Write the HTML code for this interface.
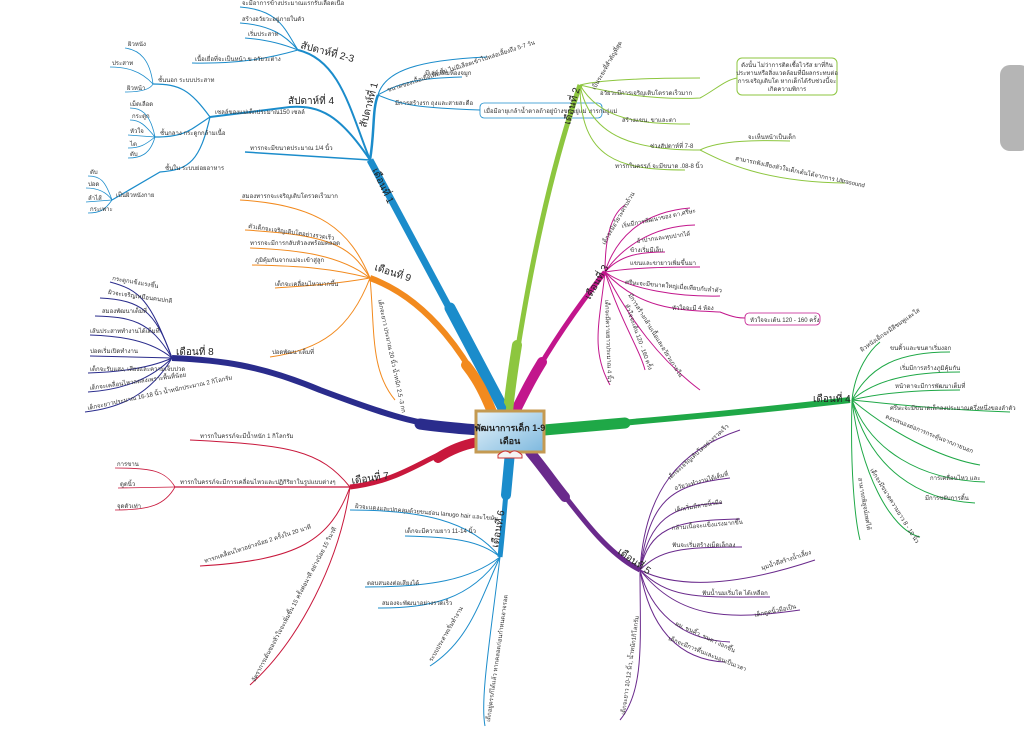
<!DOCTYPE html>
<html><head><meta charset="utf-8"><style>
html,body{margin:0;padding:0;background:#fff;}
svg{display:block;font-family:"Liberation Sans","DejaVu Sans",sans-serif;}
.t{font-size:6px;fill:#333;}
.m{font-size:10px;fill:#222;}
.l{fill:none;}
</style></head><body>
<svg width="1024" height="730" viewBox="0 0 1024 730" xmlns="http://www.w3.org/2000/svg">
<defs>
<linearGradient id="bg" x1="0" y1="0" x2="1" y2="1"><stop offset="0" stop-color="#e8f4fb"/><stop offset="1" stop-color="#7db8de"/></linearGradient>
</defs>
<rect x="1000" y="65" width="30" height="86" rx="10" fill="#b5b5b5"/>

<!-- thick stubs -->
<g fill="none" stroke-linecap="round">
<path d="M505 412 L450 308" stroke="#1b8ccb" stroke-width="11"/>
<path d="M492 412 C485 395 478 380 466 365" stroke="#f28a1e" stroke-width="10"/>
<path d="M478 430 C455 428 440 427 420 424" stroke="#2a2c8c" stroke-width="11"/>
<path d="M478 442 C462 445 450 450 438 458" stroke="#c8183c" stroke-width="10"/>
<path d="M510 452 L506 495" stroke="#1b8ccb" stroke-width="10"/>
<path d="M530 452 C545 470 555 485 565 497" stroke="#6a2a8c" stroke-width="10"/>
<path d="M544 430 L625 423" stroke="#1fa847" stroke-width="11"/>
<path d="M515 412 C525 392 532 378 542 362" stroke="#c2168c" stroke-width="10"/>
<path d="M508 412 C510 390 513 370 517 345" stroke="#8dc63f" stroke-width="10"/>
</g>

<!-- Month 1 blue -->
<g stroke="#1b8ccb" class="l">
<path d="M505 412 L370 160" stroke-width="7"/>
<path d="M370 160 C375 130 372 110 378 95" stroke-width="2.5"/>
<path d="M370 160 L245 152" stroke-width="1.5"/>
<path d="M378 95 C385 70 420 60 487 57" stroke-width="1"/>
<path d="M378 95 C400 82 420 78 462 77" stroke-width="1"/>
<path d="M378 95 C400 105 420 108 480 110" stroke-width="1"/>
<path d="M370 160 C350 110 340 60 298 50" stroke-width="2"/>
<path d="M298 50 C285 30 280 10 240 7" stroke-width="1"/>
<path d="M298 50 C285 35 270 25 240 23" stroke-width="1"/>
<path d="M298 50 C285 45 270 40 245 38" stroke-width="1"/>
<path d="M298 50 C270 58 240 64 192 63" stroke-width="1"/>
<path d="M370 160 C340 115 320 105 290 107 L210 117" stroke-width="2"/>
<path d="M210 117 C190 90 180 84 153 84" stroke-width="1.2"/>
<path d="M210 117 C190 130 185 137 155 137" stroke-width="1.2"/>
<path d="M210 117 C200 160 190 170 160 172 L112 200" stroke-width="1.2"/>
<path d="M153 84 C150 60 140 50 125 48" stroke-width=".8"/>
<path d="M153 84 C140 70 125 67 110 67" stroke-width=".8"/>
<path d="M153 84 C150 90 140 92 125 92" stroke-width=".8"/>
<path d="M155 137 C150 112 140 108 130 108" stroke-width=".8"/>
<path d="M155 137 C145 125 140 120 130 120" stroke-width=".8"/>
<path d="M155 137 L128 135" stroke-width=".8"/>
<path d="M155 137 C145 145 140 148 128 148" stroke-width=".8"/>
<path d="M155 137 C150 155 140 158 128 158" stroke-width=".8"/>
<path d="M112 200 C105 180 100 176 88 176" stroke-width=".8"/>
<path d="M112 200 C105 190 95 188 86 188" stroke-width=".8"/>
<path d="M112 200 L86 202" stroke-width=".8"/>
<path d="M112 200 C105 210 100 213 88 213" stroke-width=".8"/>
</g>
<rect x="480" y="103" width="122" height="15" rx="4" fill="#fff" stroke="#1b8ccb" stroke-width=".8"/>
<text class="t" x="484" y="113" font-size="5.5">เมื่อมีอายุเกล้าน้ำตาลถ้าอยู่บ้างขนอยู่แม่ ทารกอยู่แม่</text>
<text class="m" transform="translate(372,170) rotate(65)">เดือนที่ 1</text>
<text class="m" transform="translate(366,128) rotate(-75)">สัปดาห์ที่ 1</text>
<text class="m" transform="translate(300,48) rotate(15)">สัปดาห์ที่ 2-3</text>
<text class="m" x="288" y="104">สัปดาห์ที่ 4</text>
<text class="t" x="250" y="150">ทารกจะมีขนาดประมาณ 1/4 นิ้ว</text>
<text class="t" transform="translate(388,92) rotate(-18)">ขนาดของเนื้อเยื่อเพิ่มขึ้น ไม่มีเลือดเข้าไปหล่อเลี้ยงถึง 5-7 วัน</text>
<text class="t" x="425" y="75">มีเลย์ เพิ่มห้องจมูก</text>
<text class="t" x="395" y="105">มีการสร้างรก ถุงและสายสะดือ</text>
<text class="t" x="242" y="5">จะมีอาการข้างประมาณแรกรับเลือดเนื้อ</text>
<text class="t" x="242" y="21">สร้างอวัยวะอยู่ภายในตัว</text>
<text class="t" x="248" y="36">เริ่มประสาท</text>
<text class="t" x="195" y="61">เนื้อเยื่อที่จะเป็นหน้า ข อวัยวะต่าง</text>
<text class="t" x="215" y="114">เซลล์ของแม่เด็กประมาณ150 เซลล์</text>
<text class="t" x="158" y="82">ชั้นนอก ระบบประสาท</text>
<text class="t" x="160" y="135">ชั้นกลาง กระดูกกล้ามเนื้อ</text>
<text class="t" x="165" y="170">ชั้นใน ระบบย่อยอาหาร</text>
<text class="t" x="116" y="197">เป็นผิวหนังกาย</text>
<text class="t" x="128" y="46" font-size="5">ผิวหนัง</text><text class="t" x="112" y="65" font-size="5">ประสาท</text><text class="t" x="127" y="90" font-size="5">ผิวหน้า</text>
<text class="t" x="130" y="106" font-size="5">เม็ดเลือด</text><text class="t" x="132" y="118" font-size="5">กระดูก</text><text class="t" x="130" y="133" font-size="5">หัวใจ</text><text class="t" x="130" y="146" font-size="5">ไต</text><text class="t" x="130" y="156" font-size="5">ตับ</text>
<text class="t" x="90" y="174" font-size="5">ตับ</text><text class="t" x="88" y="186" font-size="5">ปอด</text><text class="t" x="88" y="200" font-size="5">ลำไส้</text><text class="t" x="90" y="211" font-size="5">กระเพาะ</text>

<!-- Month 9 orange -->
<g stroke="#f28a1e" class="l">
<path d="M492 412 C470 360 430 300 370 278" stroke-width="6"/>
<path d="M370 278 C350 230 320 205 240 200" stroke-width="1"/>
<path d="M370 278 C350 245 330 235 245 230" stroke-width="1"/>
<path d="M370 278 C340 255 300 250 250 248" stroke-width="1"/>
<path d="M370 278 C330 268 300 266 252 265" stroke-width="1"/>
<path d="M370 278 C330 285 300 286 275 288" stroke-width="1"/>
<path d="M370 278 C350 330 320 350 270 357" stroke-width="1"/>
<path d="M370 278 C375 330 370 370 395 400" stroke-width="1"/>
</g>
<text class="m" transform="translate(374,270) rotate(18)">เดือนที่ 9</text>
<text class="t" x="242" y="198">สมองทารกจะเจริญเติบโตรวดเร็วมาก</text>
<text class="t" transform="translate(248,228) rotate(8)">ตัวเด็กจะเจริญเติบโตอย่างรวดเร็ว</text>
<text class="t" x="250" y="245">ทารกจะมีการกลับหัวลงพร้อมคลอด</text>
<text class="t" x="255" y="262">ภูมิคุ้มกันจากแม่จะเข้าสู่ลูก</text>
<text class="t" x="275" y="286">เด็กจะเคลื่อนไหวมากขึ้น</text>
<text class="t" x="272" y="354">ปอดพัฒนาเต็มที่</text>
<text class="t" transform="translate(378,300) rotate(78)">เด็กจะยาว ประมาณ 20 นิ้ว น้ำหนัก 2.5 -3 กก</text>

<!-- Month 8 navy -->
<g stroke="#2a2c8c" class="l">
<path d="M478 430 C420 425 400 420 320 390 C260 365 220 360 172 358" stroke-width="6"/>
<path d="M172 358 C150 300 140 290 110 282" stroke-width="1"/>
<path d="M172 358 C155 310 140 300 100 298" stroke-width="1"/>
<path d="M172 358 C150 320 130 317 95 316" stroke-width="1"/>
<path d="M172 358 C150 340 120 336 90 335" stroke-width="1"/>
<path d="M172 358 L90 356" stroke-width="1"/>
<path d="M172 358 C150 368 120 372 88 373" stroke-width="1"/>
<path d="M172 358 C150 380 120 390 88 392" stroke-width="1"/>
<path d="M172 358 C150 395 120 408 85 412" stroke-width="1"/>
</g>
<text class="m" x="176" y="355">เดือนที่ 8</text>
<text class="t" transform="translate(112,280) rotate(10)">กระดูกแข็งแรงขึ้น</text>
<text class="t" transform="translate(108,294) rotate(8)">ผิวจะเจริญเหมือนคนปกติ</text>
<text class="t" x="102" y="313">สมองพัฒนาเต็มที่</text>
<text class="t" x="90" y="333">เส้นประสาททำงานได้เต็มที่</text>
<text class="t" x="90" y="353">ปอดเริ่มเปิดทำงาน</text>
<text class="t" x="90" y="371">เด็กจะรับแสง, เสียงและความเจ็บปวด</text>
<text class="t" transform="translate(90,390) rotate(-8)">เด็กจะเคลื่อนไหวลดลงเพราะพื้นที่น้อย</text>
<text class="t" transform="translate(88,410) rotate(-12)">เด็กจะยาวประมาณ 16-18 นิ้ว น้ำหนักประมาณ 2 กิโลกรัม</text>

<!-- Month 7 crimson -->
<g stroke="#c8183c" class="l">
<path d="M478 442 C430 450 410 480 350 487" stroke-width="5"/>
<path d="M350 487 C320 450 290 445 190 440" stroke-width="1"/>
<path d="M350 487 L175 487" stroke-width="1.2"/>
<path d="M175 487 C165 470 150 468 115 468" stroke-width=".8"/>
<path d="M175 487 L118 488" stroke-width=".8"/>
<path d="M175 487 C165 505 150 510 115 510" stroke-width=".8"/>
<path d="M350 487 C330 540 300 560 200 566" stroke-width="1"/>
<path d="M350 487 C340 560 300 640 250 685" stroke-width="1"/>
</g>
<text class="m" transform="translate(352,484) rotate(-8)">เดือนที่ 7</text>
<text class="t" x="200" y="438">ทารกในครรภ์จะมีน้ำหนัก 1 กิโลกรัม</text>
<text class="t" x="180" y="484">ทารกในครรภ์จะมีการเคลื่อนไหวและปฏิกิริยาในรูปแบบต่างๆ</text>
<text class="t" x="117" y="466" font-size="5">การขาน</text><text class="t" x="120" y="486" font-size="5">ดูดนิ้ว</text><text class="t" x="117" y="508" font-size="5">จุดตัวเท่า</text>
<text class="t" transform="translate(205,563) rotate(-18)">ทารกเคลื่อนไหวอย่างน้อย 2 ครั้งใน 20 นาที</text>
<text class="t" transform="translate(255,682) rotate(-62)">อัตราการเต้นของหัวใจจะเพิ่มขึ้น 15 ครั้งต่อนาที อย่างน้อย 15 วินาที</text>

<!-- Month 6 blue -->
<g stroke="#1b8ccb" class="l">
<path d="M510 452 C505 500 503 530 500 557" stroke-width="5"/>
<path d="M500 557 C470 520 420 510 350 510" stroke-width="1"/>
<path d="M500 557 C480 540 450 537 405 536" stroke-width="1"/>
<path d="M500 557 C470 580 430 587 365 587" stroke-width="1"/>
<path d="M500 557 C470 600 430 608 378 608" stroke-width="1"/>
<path d="M500 557 C480 600 470 640 430 666" stroke-width="1"/>
<path d="M500 557 C490 640 480 700 485 726" stroke-width="1"/>
</g>
<text class="m" transform="translate(498,548) rotate(-80)">เดือนที่ 6</text>
<text class="t" transform="translate(355,508) rotate(5)">ผิวจะแดงและปกคลุมด้วยขนอ่อน lanugo hair และไขมัน</text>
<text class="t" x="405" y="533">เด็กจะมีความยาว 11-14 นิ้ว</text>
<text class="t" x="367" y="585">ตอบสนองต่อเสียงได้</text>
<text class="t" x="382" y="605">สมองจะพัฒนาอย่างรวดเร็ว</text>
<text class="t" transform="translate(432,662) rotate(-60)">ระบบประสาทเริ่มทำงาน</text>
<text class="t" transform="translate(490,722) rotate(-82)">เด็กอยู่ครรภ์ได้แล้ว หากคลอดก่อนกำหนดอาจรอด</text>

<!-- Month 5 purple -->
<g stroke="#6a2a8c" class="l">
<path d="M530 452 C570 500 600 550 640 570" stroke-width="5"/>
<path d="M640 570 C645 490 680 450 740 430" stroke-width="1"/>
<path d="M640 570 C650 500 670 485 730 478" stroke-width="1"/>
<path d="M640 570 C650 520 670 505 722 503" stroke-width="1"/>
<path d="M640 570 C650 530 670 520 740 519" stroke-width="1"/>
<path d="M640 570 C660 550 680 547 742 547" stroke-width="1"/>
<path d="M640 570 C680 590 740 585 815 560" stroke-width="1"/>
<path d="M640 570 C670 600 700 597 770 597" stroke-width="1"/>
<path d="M640 570 C680 620 730 620 800 610" stroke-width="1"/>
<path d="M640 570 C650 610 680 640 730 642" stroke-width="1"/>
<path d="M640 570 C650 630 680 660 725 662" stroke-width="1"/>
<path d="M640 570 C640 640 645 690 620 720" stroke-width="1"/>
</g>
<text class="m" transform="translate(617,553) rotate(35)">เดือนที่ 5</text>
<text class="t" transform="translate(670,480) rotate(-42)">เด็กจะเจริญเติบโตอย่างรวดเร็ว</text>
<text class="t" transform="translate(675,490) rotate(-15)">อวัยวะทำงานได้เต็มที่</text>
<text class="t" transform="translate(675,512) rotate(-10)">เด็กเริ่มมีลายนิ้วมือ</text>
<text class="t" transform="translate(672,530) rotate(-5)">กล้ามเนื้อจะแข็งแรงมากขึ้น</text>
<text class="t" x="672" y="547">ฟันจะเริ่มสร้างเม็ดเล็กลง</text>
<text class="t" transform="translate(762,570) rotate(-18)">มุมน้ำตีสร้างน้ำเลี้ยง</text>
<text class="t" x="702" y="595">ฟันน้ำนมเริ่มโต ได้เหลือก</text>
<text class="t" transform="translate(755,617) rotate(-12)">เด็กดูดนิ้วมือเป็น</text>
<text class="t" transform="translate(675,625) rotate(25)">ผม, ขนคิ้ว, ขนตา งอกขึ้น</text>
<text class="t" transform="translate(668,640) rotate(22)">เด็กจะมีการตื่นและนอนเป็นเวลา</text>
<text class="t" transform="translate(625,715) rotate(-82)">เด็กจะยาว 10-12 นิ้ว, น้ำหนัก1กิโลกรัม</text>

<!-- Month 4 green -->
<g stroke="#1fa847" class="l">
<path d="M544 430 C650 420 720 415 850 400" stroke-width="6"/>
<path d="M852 400 C855 370 870 350 880 342" stroke-width="1"/>
<path d="M852 400 C870 365 900 352 950 352" stroke-width="1"/>
<path d="M852 400 C875 380 910 372 960 372" stroke-width="1"/>
<path d="M852 400 C880 393 920 390 960 390" stroke-width="1"/>
<path d="M852 400 C900 405 950 410 1010 412" stroke-width="1"/>
<path d="M852 400 C900 440 950 460 980 465" stroke-width="1"/>
<path d="M852 400 C870 450 920 480 985 482" stroke-width="1"/>
<path d="M852 400 C870 470 920 500 975 503" stroke-width="1"/>
<path d="M852 400 C860 470 890 530 920 537" stroke-width="1"/>
<path d="M852 400 C850 470 855 520 860 540" stroke-width="1"/>
</g>
<text class="m" x="813" y="402">เดือนที่ 4</text>
<text class="t" transform="translate(862,352) rotate(-35)">ผิวหนังเด็กจะมีสีชมพูและใส</text>
<text class="t" x="890" y="350">ขนคิ้วและขนตาเริ่มงอก</text>
<text class="t" x="900" y="370">เริ่มมีการสร้างภูมิคุ้มกัน</text>
<text class="t" x="895" y="388">หน้าตาจะมีการพัฒนาเต็มที่</text>
<text class="t" x="890" y="410">ศรีษะจะมีขนาดเล็กลงประมาณครึ่งหนึ่งของลำตัว</text>
<text class="t" transform="translate(885,418) rotate(22)">ตอบสนองต่อการกระตุ้นจากภายนอก</text>
<text class="t" x="930" y="480">การเคลื่อนไหว และ</text>
<text class="t" x="925" y="500">มีการขยับการดิ้น</text>
<text class="t" transform="translate(870,470) rotate(58)">เด็กจะมีขนาดความยาว 8 - 10 นิ้ว</text>
<text class="t" transform="translate(858,478) rotate(80)">สามารถพิสูจน์เพศได้</text>

<!-- Month 3 magenta -->
<g stroke="#c2168c" class="l">
<path d="M515 412 C540 360 575 310 605 272" stroke-width="5"/>
<path d="M605 272 C605 240 610 215 625 205" stroke-width="1"/>
<path d="M605 272 C615 240 640 212 690 208" stroke-width="1"/>
<path d="M605 272 C620 250 650 226 695 225" stroke-width="1"/>
<path d="M605 272 C620 255 640 252 665 252" stroke-width="1"/>
<path d="M605 272 C630 268 660 267 700 267" stroke-width="1"/>
<path d="M605 272 C630 290 680 297 720 296" stroke-width="1"/>
<path d="M605 272 C640 310 680 310 720 312 C735 318 740 318 745 318" stroke-width="1"/>
<path d="M605 272 C630 320 660 360 700 390" stroke-width="1"/>
<path d="M605 272 C620 320 640 350 645 370" stroke-width="1"/>
<path d="M605 272 C600 320 590 350 610 385" stroke-width="1"/>
</g>
<rect x="745" y="313" width="75" height="12" rx="4" fill="#fff" stroke="#c2168c" stroke-width=".8"/>
<text class="t" x="750" y="322" font-size="5.5">หัวใจจะเต้น 120 - 160 ครั้ง</text>
<text class="m" transform="translate(590,300) rotate(-60)">เดือนที่ 3</text>
<text class="t" transform="translate(605,245) rotate(-60)">เด็กจะมีอวัยวะครบถ้วน</text>
<text class="t" transform="translate(622,228) rotate(-12)">เริ่มมีการพัฒนาของ ตา,ศรีษะ</text>
<text class="t" transform="translate(637,243) rotate(-8)">อ้าปากและหุบปากได้</text>
<text class="t" x="630" y="252">ข้างเริ่มมีเล็บ</text>
<text class="t" x="630" y="265">แขนและขายาวเพิ่มขึ้นมา</text>
<text class="t" transform="translate(625,284) rotate(5)">ศรีษะจะมีขนาดใหญ่เมื่อเทียบกับลำตัว</text>
<text class="t" x="672" y="310">หัวใจจะมี 4 ห้อง</text>
<text class="t" transform="translate(628,295) rotate(58)">มีการสร้างกล้ามเนื้อและอวัยวะภายใน</text>
<text class="t" transform="translate(625,305) rotate(70)">หัวใจจะเต้น 120 - 160 ครั้ง</text>
<text class="t" transform="translate(605,300) rotate(88)">เด็กจะมีความยาวประมาณ 4 นิ้ว</text>

<!-- Month 2 lime -->
<g stroke="#8dc63f" class="l">
<path d="M508 412 C520 330 540 200 580 85" stroke-width="5"/>
<path d="M580 85 C600 80 640 78 700 78" stroke-width="1"/>
<path d="M580 85 C620 95 660 100 700 98 C715 90 725 80 737 78" stroke-width="1"/>
<path d="M580 85 C600 120 640 124 690 124" stroke-width="1"/>
<path d="M580 85 C590 140 640 150 700 150" stroke-width="1"/>
<path d="M700 150 C720 140 760 140 790 141" stroke-width="1"/>
<path d="M700 150 C720 160 760 182 845 183" stroke-width="1"/>
<path d="M580 85 C580 160 620 170 685 170" stroke-width="1"/>
</g>
<rect x="737" y="58" width="100" height="37" rx="5" fill="#fff" stroke="#8dc63f" stroke-width="1"/>
<text class="t" x="787" y="67" text-anchor="middle">ดังนั้น ไม่ว่าการติดเชื้อไวรัส ยาที่กิน</text>
<text class="t" x="787" y="75" text-anchor="middle">ประทานหรือสิ่งแวดล้อมที่มีผลกระทบต่อ</text>
<text class="t" x="787" y="83" text-anchor="middle">การเจริญเติบโต หากเด็กได้รับช่วงนี้จะ</text>
<text class="t" x="787" y="91" text-anchor="middle">เกิดความพิการ</text>
<text class="m" transform="translate(570,125) rotate(-75)">เดือนที่ 2</text>
<text class="t" transform="translate(595,90) rotate(-60)">เป็นระยะที่สำคัญที่สุด</text>
<text class="t" x="600" y="95">อวัยวะมีการเจริญเติบโตรวดเร็วมาก</text>
<text class="t" x="622" y="122">สร้างแขน, ขาและตา</text>
<text class="t" x="650" y="148">ช่วงสัปดาห์ที่ 7-8</text>
<text class="t" x="748" y="139" font-size="5">จะเห็นหน้าเป็นเด็ก</text>
<text class="t" transform="translate(735,160) rotate(12)" font-size="5">สามารถฟังเสียงหัวใจเด็กเต้นได้จากการ Ultrasound</text>
<text class="t" x="615" y="168">ทารกในครรภ์ จะมีขนาด .08-8 นิ้ว</text>

<!-- Center -->
<rect x="476" y="411" width="68" height="41" fill="url(#bg)" stroke="#c49a52" stroke-width="3"/>
<text x="510" y="431" text-anchor="middle" font-size="9" font-weight="bold" fill="#222">พัฒนาการเด็ก 1-9</text>
<text x="510" y="444" text-anchor="middle" font-size="9" font-weight="bold" fill="#222">เดือน</text>
<path d="M498 455 Q505 448 510 453 Q515 448 522 455 L522 458 L498 458 Z" fill="#f4f4f4" stroke="#c33" stroke-width="1"/>
</svg>
</body></html>
